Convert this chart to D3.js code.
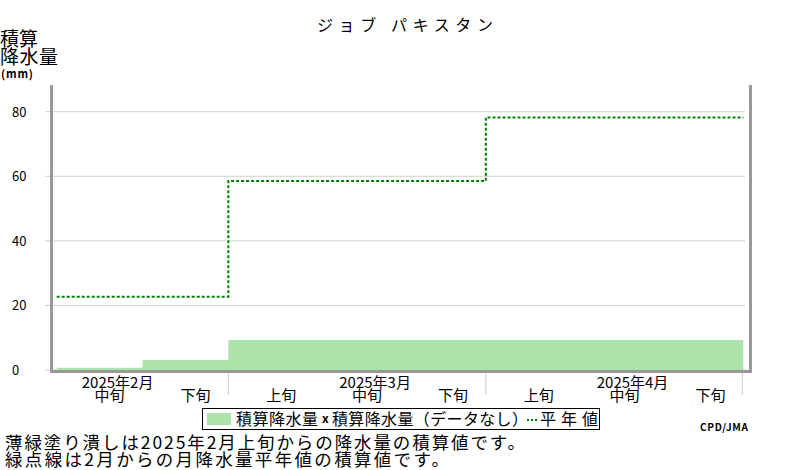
<!DOCTYPE html>
<html>
<head>
<meta charset="utf-8">
<script src="https://cdn.jsdelivr.net/npm/d3@7"></script>
<style>
  body { margin: 0; background: #fff; }
  text { font-family: "Noto Sans CJK JP", "Noto Sans", sans-serif; fill: #000; }
</style>
</head>
<body>
<div id="chart"></div>
<script>
// 旬（じゅん）ごとのカテゴリ
const dekads = ["2月中旬", "2月下旬", "3月上旬", "3月中旬", "3月下旬", "4月上旬", "4月中旬", "4月下旬"];
const dekadLabels = ["中旬", "下旬", "上旬", "中旬", "下旬", "上旬", "中旬", "下旬"];
// 積算降水量 (mm)
const precipAccum = [0.7, 3.1, 9.3, 9.3, 9.3, 9.3, 9.3, 9.3];
// 平年値の積算 (mm)
const normalAccum = [22.7, 22.7, 58.5, 58.5, 58.5, 78.2, 78.2, 78.2];
// 月ラベル（中旬の位置に置く）
const months = [
  { label: "2025年2月", dekad: "2月中旬" },
  { label: "2025年3月", dekad: "3月中旬" },
  { label: "2025年4月", dekad: "4月中旬" }
];
const monthBoundaries = ["3月上旬", "4月上旬"];
const yTicks = [0, 20, 40, 60, 80];

const width = 800, height = 470;
const svg = d3.select('#chart').append('svg')
  .attr('width', width)
  .attr('height', height);

// スケール
const x = d3.scaleBand().domain(dekads).range([56.7, 743.3]).padding(0);
const y = d3.scaleLinear().domain([0, 80]).range([370, 111.7]);
const xEnd = x.range()[1];

// タイトル
svg.append('text')
  .attr('x', 317).attr('y', 31)
  .attr('font-size', 16)
  .attr('textLength', 176).attr('lengthAdjust', 'spacing')
  .text('ジョブ パキスタン');

// 縦軸タイトル
svg.append('text').attr('x', 0).attr('y', 46).attr('font-size', 19)
  .attr('textLength', 38).text('積算');
svg.append('text').attr('x', 0).attr('y', 64).attr('font-size', 19)
  .attr('textLength', 58).text('降水量');
svg.append('text').attr('x', 1).attr('y', 78).attr('font-size', 11)
  .attr('font-weight', 'bold').attr('font-family', 'DejaVu Sans')
  .attr('textLength', 32).text('(mm)');

// グリッド線
svg.append('g')
  .selectAll('line')
  .data(yTicks)
  .enter()
  .append('line')
  .attr('x1', 45).attr('x2', 745)
  .attr('y1', d => y(d)).attr('y2', d => y(d))
  .attr('stroke', '#d0d0d0').attr('stroke-width', 1);

// 縦軸目盛ラベル
svg.append('g')
  .selectAll('text')
  .data(yTicks)
  .enter()
  .append('text')
  .attr('x', 12).attr('y', d => y(d) + 5)
  .attr('font-family', 'DejaVu Sans')
  .attr('font-size', 13)
  .text(d => d);

// 積算降水量（塗り潰し）
const area = d3.area()
  .x(d => d.x)
  .y0(y(0))
  .y1(d => y(d.v))
  .curve(d3.curveStepAfter);
const precipPts = dekads.map((k, i) => ({ x: x(k), v: precipAccum[i] }));
precipPts.push({ x: xEnd, v: precipAccum[precipAccum.length - 1] });
svg.append('path')
  .datum(precipPts)
  .attr('d', area)
  .attr('fill', '#ace3ab');

// 平年値（点線）
const line = d3.line()
  .x(d => d.x)
  .y(d => y(d.v))
  .curve(d3.curveStepAfter);
const normalPts = dekads.map((k, i) => ({ x: x(k), v: normalAccum[i] }));
normalPts.push({ x: xEnd, v: normalAccum[normalAccum.length - 1] });
svg.append('path')
  .datum(normalPts)
  .attr('d', line)
  .attr('fill', 'none')
  .attr('stroke', '#008000')
  .attr('stroke-width', 2)
  .attr('stroke-dasharray', '3,2');

// 枠線
const frame = svg.append('g').attr('stroke', '#999').attr('stroke-width', 3);
frame.append('line').attr('x1', 51.5).attr('x2', 51.5).attr('y1', 85).attr('y2', 373);
frame.append('line').attr('x1', 750.5).attr('x2', 750.5).attr('y1', 85).attr('y2', 373);
frame.append('line').attr('x1', 50).attr('x2', 752).attr('y1', 371.5).attr('y2', 371.5);

// 月の区切り線
svg.append('g')
  .selectAll('line')
  .data(monthBoundaries.map(k => x(k)).concat([xEnd - 1]))
  .enter()
  .append('line')
  .attr('x1', d => d).attr('x2', d => d)
  .attr('y1', 373).attr('y2', 395)
  .attr('stroke', '#ccc').attr('stroke-width', 1);

// 旬ラベル
svg.append('g')
  .selectAll('text')
  .data(dekads)
  .enter()
  .append('text')
  .attr('x', d => x(d) + x.bandwidth() / 2 + 10)
  .attr('y', 401)
  .attr('text-anchor', 'middle')
  .attr('font-size', 15)
  .text((d, i) => dekadLabels[i]);

// 月ラベル
svg.append('g')
  .selectAll('text')
  .data(months)
  .enter()
  .append('text')
  .attr('x', d => x(d.dekad) + x.bandwidth() / 2 + 18)
  .attr('y', 388)
  .attr('text-anchor', 'middle')
  .attr('font-size', 15)
  .text(d => d.label);

// 凡例
const legend = svg.append('g');
legend.append('rect')
  .attr('x', 202.5).attr('y', 408.5).attr('width', 397).attr('height', 21)
  .attr('fill', '#fff').attr('stroke', '#000').attr('stroke-width', 1);
legend.append('rect')
  .attr('x', 207).attr('y', 413).attr('width', 24).attr('height', 12)
  .attr('fill', '#ace3ab');
legend.append('text').attr('x', 236).attr('y', 425).attr('font-size', 16)
  .attr('textLength', 82).text('積算降水量');
legend.append('text').attr('x', 322).attr('y', 423).attr('font-size', 12)
  .attr('font-weight', 'bold').attr('font-family', 'DejaVu Sans').text('x');
legend.append('text').attr('x', 332).attr('y', 425).attr('font-size', 16)
  .attr('textLength', 196).text('積算降水量（データなし）');
legend.append('line')
  .attr('x1', 527).attr('x2', 538).attr('y1', 420).attr('y2', 420)
  .attr('stroke', '#008000').attr('stroke-width', 2).attr('stroke-dasharray', '2,2');
legend.append('text').attr('x', 540).attr('y', 425).attr('font-size', 16)
  .attr('textLength', 58).text('平年値');

// 出典
svg.append('text').attr('x', 700).attr('y', 431)
  .attr('font-family', 'DejaVu Sans Mono').attr('font-weight', 'bold')
  .attr('font-size', 10).attr('textLength', 48)
  .text('CPD/JMA');

// 注記
svg.append('text').attr('x', 5).attr('y', 449).attr('font-size', 17.5)
  .attr('textLength', 520).attr('lengthAdjust', 'spacing')
  .text('薄緑塗り潰しは2025年2月上旬からの降水量の積算値です。');
svg.append('text').attr('x', 5).attr('y', 466).attr('font-size', 17.5)
  .attr('textLength', 444).attr('lengthAdjust', 'spacing')
  .text('緑点線は2月からの月降水量平年値の積算値です。');
</script>
</body>
</html>
